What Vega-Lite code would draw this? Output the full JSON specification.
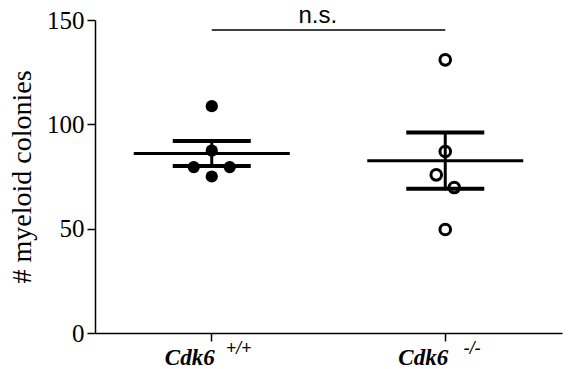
{
  "$schema": "https://vega.github.io/schema/vega-lite/v6.json",
  "width": 467,
  "height": 313,
  "autosize": {"type": "none"},
  "padding": {"left": 95, "top": 20, "right": 9, "bottom": 36},
  "background": "white",
  "config": {
    "view": {"stroke": null},
    "axis": {"grid": false, "domainColor": "black", "tickColor": "black", "domainWidth": 1.5, "tickWidth": 1.5, "tickSize": 8, "labelColor": "black", "titleColor": "black"}
  },
  "datasets": {
    "colonies": [
      {"genotype": "Cdk6 +/+", "col": "C", "colonies": 108.7},
      {"genotype": "Cdk6 +/+", "col": "C", "colonies": 87.4},
      {"genotype": "Cdk6 +/+", "col": "L2", "colonies": 79.5},
      {"genotype": "Cdk6 +/+", "col": "R2", "colonies": 79.5},
      {"genotype": "Cdk6 +/+", "col": "C", "colonies": 75.0},
      {"genotype": "Cdk6 -/-", "col": "C", "colonies": 130.9},
      {"genotype": "Cdk6 -/-", "col": "C", "colonies": 87.0},
      {"genotype": "Cdk6 -/-", "col": "L1", "colonies": 75.8},
      {"genotype": "Cdk6 -/-", "col": "R1", "colonies": 69.7},
      {"genotype": "Cdk6 -/-", "col": "C", "colonies": 49.6}
    ],
    "genotypes": [
      {"genotype": "Cdk6 +/+", "sup": "+/+"},
      {"genotype": "Cdk6 -/-", "sup": "-/-"}
    ],
    "comparison": [
      {"from": "Cdk6 +/+", "to": "Cdk6 -/-", "level": 145.2, "label": "n.s."}
    ]
  },
  "layer": [
    {
      "data": {"name": "colonies"},
      "mark": {"type": "tick", "orient": "horizontal", "size": 156, "thickness": 3, "color": "black", "opacity": 1},
      "encoding": {
        "x": {"field": "genotype", "type": "nominal", "scale": {"type": "band", "domain": ["Cdk6 +/+", "Cdk6 -/-"], "paddingInner": 0, "paddingOuter": 0},
              "axis": {"title": null, "labelExpr": "'Cdk6'", "labelFont": "Liberation Serif", "labelFontSize": 23, "labelFontStyle": "italic", "labelFontWeight": "bold", "labelColor": "black", "labelAngle": 0, "labelOffset": -22, "labelBaseline": "alphabetic", "labelPadding": 23}},
        "y": {"aggregate": "mean", "field": "colonies", "type": "quantitative", "scale": {"domain": [0, 150], "nice": false},
              "axis": {"title": "# myeloid colonies", "values": [0, 50, 100, 150], "labelFont": "Liberation Serif", "labelFontSize": 25, "labelColor": "black", "labelPadding": 3, "titleFont": "Liberation Serif", "titleFontSize": 28, "titleFontWeight": "normal", "titleColor": "black", "titlePadding": 10}}
      }
    },
    {
      "data": {"name": "colonies"},
      "mark": {"type": "errorbar", "extent": "stderr", "color": "black", "opacity": 1, "ticks": {"size": 78, "thickness": 4, "color": "black", "opacity": 1}, "rule": {"strokeWidth": 3, "color": "black", "opacity": 1}},
      "encoding": {
        "x": {"field": "genotype", "type": "nominal"},
        "y": {"field": "colonies", "type": "quantitative", "scale": {"domain": [0, 150], "nice": false}, "title": "# myeloid colonies"}
      }
    },
    {
      "data": {"name": "colonies"},
      "transform": [{"filter": "datum.genotype === 'Cdk6 +/+'"}],
      "mark": {"type": "point", "shape": "circle", "filled": true, "size": 150, "color": "black", "opacity": 1},
      "encoding": {
        "x": {"field": "genotype", "type": "nominal"},
        "xOffset": {"field": "col", "type": "nominal", "scale": {"type": "point", "domain": ["L2", "L1", "C", "R1", "R2"], "range": [98.75, 134.75], "padding": 0}},
        "y": {"field": "colonies", "type": "quantitative", "scale": {"domain": [0, 150], "nice": false}, "title": "# myeloid colonies"}
      }
    },
    {
      "data": {"name": "colonies"},
      "transform": [{"filter": "datum.genotype === 'Cdk6 -/-'"}],
      "mark": {"type": "point", "shape": "circle", "filled": false, "size": 113, "strokeWidth": 3, "color": "black", "opacity": 1},
      "encoding": {
        "x": {"field": "genotype", "type": "nominal"},
        "xOffset": {"field": "col", "type": "nominal", "scale": {"type": "point", "domain": ["L2", "L1", "C", "R1", "R2"], "range": [98.75, 134.75], "padding": 0}},
        "y": {"field": "colonies", "type": "quantitative", "scale": {"domain": [0, 150], "nice": false}, "title": "# myeloid colonies"}
      }
    },
    {
      "data": {"name": "genotypes"},
      "mark": {"type": "text", "dx": 27, "align": "center", "baseline": "alphabetic", "font": "Liberation Serif", "fontSize": 18, "fontStyle": "italic", "fontWeight": "bold", "color": "black"},
      "encoding": {
        "x": {"field": "genotype", "type": "nominal"},
        "y": {"datum": -10, "type": "quantitative", "scale": {"domain": [0, 150], "nice": false}},
        "text": {"field": "sup"}
      }
    },
    {
      "data": {"name": "comparison"},
      "mark": {"type": "rule", "color": "black", "strokeWidth": 1.5},
      "encoding": {
        "x": {"field": "from", "type": "nominal"},
        "x2": {"field": "to"},
        "x2Offset": {"value": -12},
        "y": {"field": "level", "type": "quantitative", "scale": {"domain": [0, 150], "nice": false}}
      }
    },
    {
      "data": {"name": "comparison"},
      "mark": {"type": "text", "dx": 106, "dy": -7, "align": "center", "baseline": "alphabetic", "font": "Liberation Sans", "fontSize": 24, "color": "black"},
      "encoding": {
        "x": {"field": "from", "type": "nominal"},
        "y": {"field": "level", "type": "quantitative", "scale": {"domain": [0, 150], "nice": false}},
        "text": {"field": "label"}
      }
    }
  ]
}
